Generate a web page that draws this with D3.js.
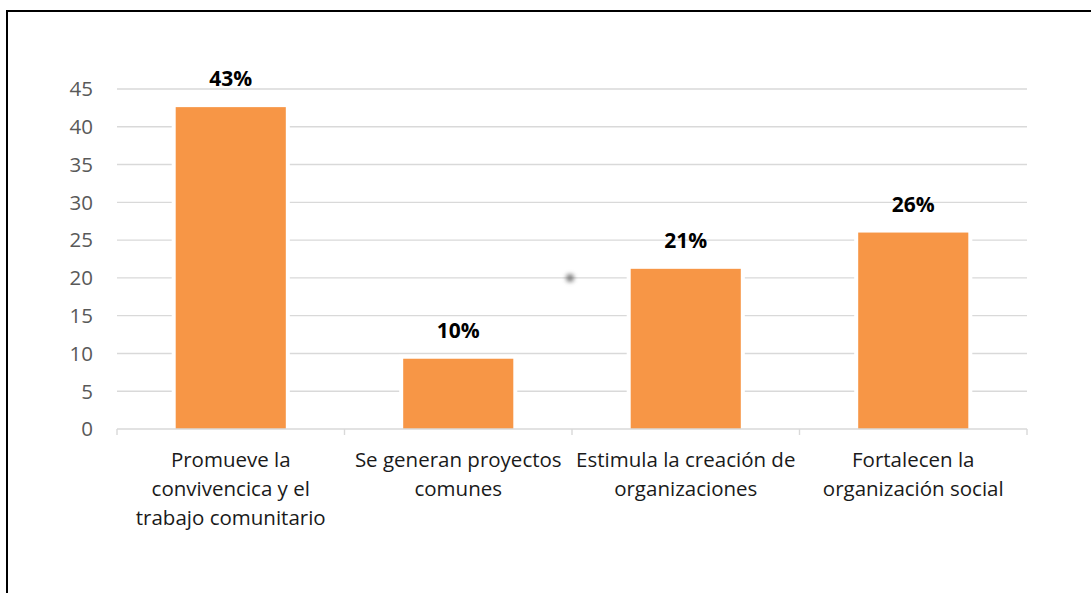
<!DOCTYPE html>
<html>
<head>
<meta charset="utf-8">
<script src="https://d3js.org/d3.v7.min.js"></script>
<style>
  body { margin: 0; background: #fff; }
  svg { display: block; font-family: 'Open Sans', 'Noto Sans', sans-serif; }
</style>
</head>
<body>
<svg id="chart"></svg>
<script>
// Categories (each one split into the lines shown under the axis)
const categories = [
  ['Promueve la', 'convivencica y el', 'trabajo comunitario'],
  ['Se generan proyectos', 'comunes'],
  ['Estimula la creación de', 'organizaciones'],
  ['Fortalecen la', 'organización social']
];
const values = [42.6, 9.3, 21.2, 26.0];
const valueLabels = ['43%', '10%', '21%', '26%'];
const yTicks = [0, 5, 10, 15, 20, 25, 30, 35, 40, 45];

class BarChart {
  constructor(_config) {
    this.config = {
      parentElement: _config.parentElement,
      containerWidth: _config.containerWidth || 1091,
      containerHeight: _config.containerHeight || 593,
      margin: { top: 89, right: 64, bottom: 164, left: 117 }
    };
    this.color = '#F79646';
    this.initVis();
  }

  initVis() {
    let vis = this;
    vis.width = vis.config.containerWidth - vis.config.margin.left - vis.config.margin.right;
    vis.height = vis.config.containerHeight - vis.config.margin.top - vis.config.margin.bottom;

    let root = d3.select(vis.config.parentElement)
      .attr('width', vis.config.containerWidth)
      .attr('height', vis.config.containerHeight);

    // outer frame (runs off the right and bottom edges)
    root.append('rect')
      .attr('x', 7).attr('y', 11)
      .attr('width', 1200).attr('height', 700)
      .attr('fill', 'none')
      .attr('stroke', '#000')
      .attr('stroke-width', 2);

    vis.svg = root.append('g')
      .attr('transform', `translate(${vis.config.margin.left},${vis.config.margin.top})`);

    vis.xScale = d3.scaleBand()
      .domain(d3.range(categories.length))
      .range([0, vis.width])
      .paddingInner(0.516)
      .paddingOuter(0.258);

    vis.yScale = d3.scaleLinear()
      .domain([0, 45])
      .range([vis.height, 0]);

    // gridlines
    vis.svg.selectAll('.grid')
      .data(yTicks.filter(d => d > 0))
      .enter().append('line')
      .attr('class', 'grid')
      .attr('x1', 0).attr('x2', vis.width)
      .attr('y1', d => vis.yScale(d)).attr('y2', d => vis.yScale(d))
      .attr('stroke', '#d9d9d9')
      .attr('stroke-width', 1.4);

    // y tick labels
    vis.svg.selectAll('.y-label')
      .data(yTicks)
      .enter().append('text')
      .attr('class', 'y-label')
      .attr('x', -24)
      .attr('y', d => vis.yScale(d))
      .attr('dy', '0.36em')
      .attr('text-anchor', 'end')
      .attr('fill', '#595959')
      .style('font-size', '20.5px')
      .text(d => d);

    // small grey smudge present in the original picture
    let defs = root.append('defs');
    defs.append('filter').attr('id', 'blur')
      .attr('x', '-100%').attr('y', '-100%').attr('width', '300%').attr('height', '300%')
      .append('feGaussianBlur').attr('stdDeviation', 2);
    let step = vis.xScale.step();
    vis.svg.append('circle')
      .attr('cx', vis.xScale(2) - step * 0.258 - 2)
      .attr('cy', vis.yScale(20))
      .attr('r', 4)
      .attr('fill', '#808080')
      .attr('filter', 'url(#blur)');

    // white gap around each bar, then the bar
    vis.svg.selectAll('.gap')
      .data(values)
      .enter().append('rect')
      .attr('class', 'gap')
      .attr('x', (d, i) => vis.xScale(i) - 4)
      .attr('y', d => vis.yScale(d) - 4)
      .attr('width', vis.xScale.bandwidth() + 8)
      .attr('height', d => vis.height - vis.yScale(d) + 3)
      .attr('fill', '#fff');

    vis.svg.selectAll('.bar')
      .data(values)
      .enter().append('rect')
      .attr('class', 'bar')
      .attr('x', (d, i) => vis.xScale(i))
      .attr('y', d => vis.yScale(d))
      .attr('width', vis.xScale.bandwidth())
      .attr('height', d => vis.height - vis.yScale(d))
      .attr('fill', vis.color);

    // value labels
    vis.svg.selectAll('.value')
      .data(values)
      .enter().append('text')
      .attr('class', 'value')
      .attr('x', (d, i) => vis.xScale(i) + vis.xScale.bandwidth() / 2)
      .attr('y', d => vis.yScale(d) - 21)
      .attr('text-anchor', 'middle')
      .attr('fill', '#000')
      .style('font-size', '21px')
      .style('font-weight', 'bold')
      .text((d, i) => valueLabels[i]);

    // x axis line with ticks at category boundaries
    vis.svg.append('line')
      .attr('x1', 0).attr('x2', vis.width)
      .attr('y1', vis.height).attr('y2', vis.height)
      .attr('stroke', '#d9d9d9')
      .attr('stroke-width', 1.4);

    vis.svg.selectAll('.x-tick')
      .data(d3.range(categories.length + 1))
      .enter().append('line')
      .attr('class', 'x-tick')
      .attr('x1', i => i * step).attr('x2', i => i * step)
      .attr('y1', vis.height).attr('y2', vis.height + 6)
      .attr('stroke', '#d9d9d9')
      .attr('stroke-width', 1.4);

    // category labels
    let cat = vis.svg.selectAll('.x-label')
      .data(categories)
      .enter().append('text')
      .attr('class', 'x-label')
      .attr('text-anchor', 'middle')
      .attr('fill', '#1a1a1a')
      .style('font-size', '20.5px');

    cat.selectAll('tspan')
      .data((d, i) => d.map(line => ({ line, i })))
      .enter().append('tspan')
      .attr('x', d => vis.xScale(d.i) + vis.xScale.bandwidth() / 2)
      .attr('y', (d, j) => vis.height + 38 + j * 29)
      .text(d => d.line);
  }
}

new BarChart({ parentElement: '#chart' });
</script>
</body>
</html>
